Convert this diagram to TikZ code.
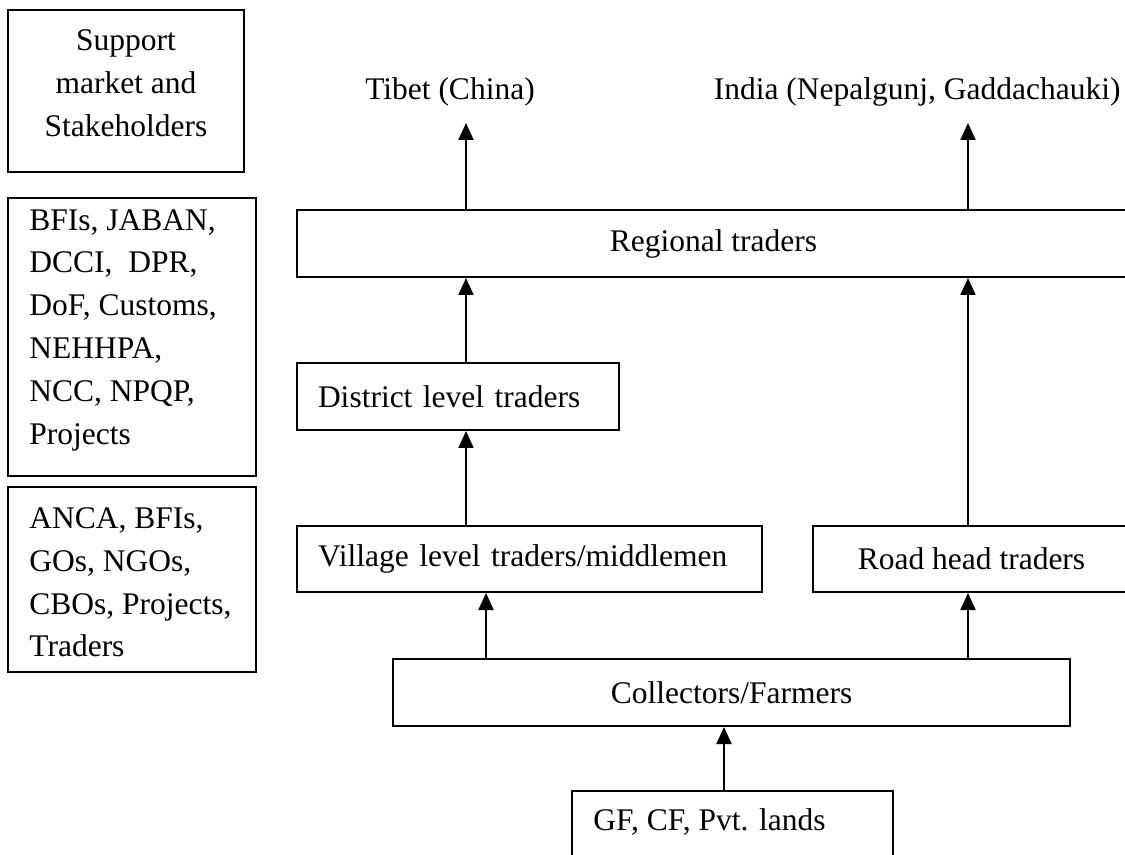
\documentclass[tikz,border=0pt]{standalone}
\usepackage{fontspec}
\setmainfont{Liberation Serif}
\usetikzlibrary{arrows.meta}
\begin{document}
\begin{tikzpicture}[x=0.5pt,y=-0.5pt,
  every node/.style={font=\fontsize{15.75pt}{21.4pt}\selectfont},
  box/.style={draw, line width=1pt, rectangle, inner sep=0pt},
  lbl/.style={inner sep=0pt},
  arr/.style={line width=1pt, -{Triangle[width=7.5pt,length=8.5pt]}}
]
\clip (0,0) rectangle (1125,855);
\fill[white] (0,0) rectangle (1125,855);
% left column
\node[box, minimum width=118pt, minimum height=81pt] (sup) at (126,91) {};
\node[lbl, align=center] (supt) at (126,83) {Support\\market and\\Stakeholders};
\node[box, minimum width=124pt, minimum height=139pt] (bfi) at (132,337) {};
\node[lbl, align=left, anchor=west] (bfit) at (29,330) {BFIs, JABAN,\\DCCI,\ \ DPR,\\DoF, Customs,\\NEHHPA,\\NCC, NPQP,\\Projects};
\node[box, minimum width=124pt, minimum height=92.5pt] (anca) at (132,579.5) {};
\node[lbl, align=left, anchor=west] (ancat) at (29,582.5) {ANCA, BFIs,\\GOs, NGOs,\\CBOs, Projects,\\Traders};
% destinations
\node[lbl] (tib) at (450,92) {Tibet (China)};
\node[lbl, anchor=east] (ind) at (1121,92) {India (Nepalgunj, Gaddachauki)};
% chain
\node[box, minimum width=416.5pt, minimum height=33.5pt] (reg) at (713.5,243.5) {Regional traders};
\node[box, text width=140pt, inner xsep=10.5pt, align=left, minimum height=33.5pt] (dist) at (458,396.5) {District level traders};
\node[box, text width=211.5pt, inner xsep=10.5pt, align=left, minimum height=33pt] (vil) at (529.5,559) {Village level traders/middlemen};
\node[box, minimum width=158.5pt, minimum height=33pt] (road) at (971.5,559) {Road head traders};
\node[box, minimum width=338.5pt, minimum height=33.5pt] (col) at (731.5,692.5) {Collectors/Farmers};
\node[box, minimum width=160.5pt, minimum height=36pt] (gf) at (732.5,827) {};
\node[lbl, anchor=west] (gft) at (593,822) {GF, CF, Pvt. lands};
% connectors
\coordinate (tibA) at (466,123);
\coordinate (indA) at (968,123);
\coordinate (vx) at (486,0);
\coordinate (gx) at (724,0);
\draw[arr] (reg.north -| tibA) -- (tibA);
\draw[arr] (reg.north -| indA) -- (indA);
\draw[arr] (dist.north -| tibA) -- (reg.south -| tibA);
\draw[arr] (vil.north -| tibA) -- (dist.south -| tibA);
\draw[arr] (road.north -| indA) -- (reg.south -| indA);
\draw[arr] (col.north -| vx) -- (vil.south -| vx);
\draw[arr] (col.north -| indA) -- (road.south -| indA);
\draw[arr] (gf.north -| gx) -- (col.south -| gx);
\end{tikzpicture}
\end{document}
